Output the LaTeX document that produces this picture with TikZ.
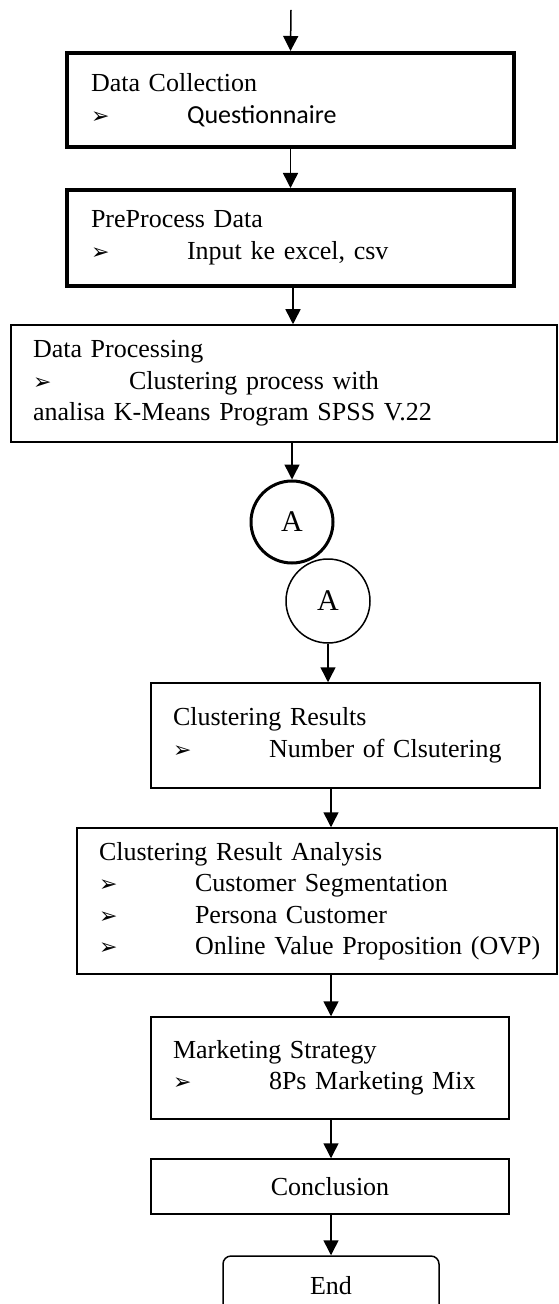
\documentclass[tikz,border=0pt]{standalone}
\usepackage{fontspec}
\setmainfont{Liberation Serif}
\newfontfamily\calibri{Carlito}
\newfontfamily\dingfont{DejaVu Sans}
\usetikzlibrary{arrows.meta}

\newcommand{\bul}{\makebox[48pt][l]{\dingfont\fontsize{11}{11}\selectfont ➢}}

\begin{document}
\begin{tikzpicture}[x=0.5pt,y=-0.5pt,
    >={Triangle[length=7.5pt,width=7.5pt]},
    every node/.style={font=\fontsize{13}{15.75}\selectfont},
    flow/.style={->,line width=0.75pt},
    bold box/.style={draw,line width=2pt,inner xsep=12pt,inner ysep=2pt,align=left},
    main box/.style={draw,line width=0.75pt,inner xsep=11pt,inner ysep=2pt,align=left},
    link node/.style={circle,draw,inner sep=0pt,font=\fontsize{15}{15}\selectfont},
    end node/.style={draw,line width=0.75pt,rounded corners=4pt,
                     minimum width=108pt,minimum height=30pt}]

  \useasboundingbox (0,0) rectangle (558,1304);

  \coordinate (start) at (291,10);

  \node[bold box,text width=199.5pt,minimum height=47pt] (collect) at (290.5,100)
    {Data Collection\\ \bul{\calibri Questionnaire}};
  \node[bold box,text width=199.5pt,minimum height=48pt] (prep) at (290.5,238)
    {PreProcess Data\\ \bul Input ke excel, csv};
  \node[main box,text width=251pt,minimum height=58.5pt] (process) at (284,383.5)
    {Data Processing\\ \bul Clustering process with\\ analisa K-Means Program SPSS V.22};

  \node[link node,line width=1.5pt,minimum size=41pt] (a1) at (292,522) {A};
  \node[link node,line width=0.75pt,minimum size=42pt] (a2) at (328,601) {A};

  \node[main box,text width=172.5pt,minimum height=52.5pt] (result) at (345.5,735.5)
    {Clustering Results\\ \bul Number of Clsutering};
  \node[main box,text width=218pt,minimum height=73pt] (analysis) at (317,901)
    {Clustering Result Analysis\\ \bul Customer Segmentation\\
     \bul Persona Customer\\ \bul\mbox{Online Value Proposition (OVP)}};
  \node[main box,text width=157pt,minimum height=51pt] (strategy) at (330,1068)
    {Marketing Strategy\\ \bul 8Ps Marketing Mix};
  \node[main box,align=center,minimum width=179pt,minimum height=27.5pt] (concl) at (330,1186.5)
    {Conclusion};
  \node[end node] (end) at (331,1286) {End};

  % connectors
  \draw[flow] (start) -- (collect.north);
  \draw[flow] (collect) -- (prep);
  \draw[flow] (prep.south -| 293,0) -- (process.north -| 293,0);
  \draw[flow] (process.south -| a1) -- (a1);
  \draw[flow] (a2) -- (a2 |- result.north);
  \draw[flow] (result.south -| end) -- (end |- analysis.north);
  \draw[flow] (analysis.south -| end) -- (end |- strategy.north);
  \draw[flow] (strategy.south -| end) -- (end |- concl.north);
  \draw[flow] (concl.south -| end) -- (end);
\end{tikzpicture}
\end{document}
